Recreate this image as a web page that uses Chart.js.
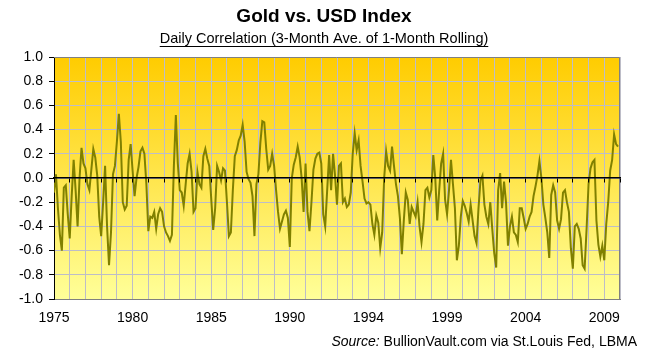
<!DOCTYPE html>
<html><head><meta charset="utf-8">
<script src="https://cdn.jsdelivr.net/npm/chart.js@4.4.0/dist/chart.umd.min.js"></script>
<style>html,body{margin:0;padding:0;background:#fff;}#wrap{width:654px;height:360px;}</style>
</head><body><div id="wrap"><canvas id="c" width="654" height="360"></canvas></div>
<script>
const titleText = 'Gold vs. USD Index';
const subtitleText = 'Daily Correlation (3-Month Ave. of 1-Month Rolling)';
const sourceLabel = 'Source:';
const sourceText = ' BullionVault.com via St.Louis Fed, LBMA';
const yearLabels = ['1975','1980','1985','1990','1994','1999','2004','2009'];
const pointsPerGrid = 8;
const pointsPerLabel = 40;
const correlation = [
-0.12,0.03,-0.25,-0.47,-0.60,-0.08,-0.06,-0.30,
-0.50,-0.15,0.15,-0.10,-0.40,0.00,0.25,0.12,
0.08,-0.05,-0.10,0.07,0.24,0.17,0.02,-0.32,
-0.48,-0.20,0.10,-0.40,-0.72,-0.45,0.03,0.10,
0.30,0.53,0.30,-0.20,-0.26,-0.23,0.15,0.28,
0.06,-0.15,0.00,0.09,0.22,0.25,0.20,-0.05,
-0.44,-0.32,-0.33,-0.28,-0.42,-0.30,-0.25,-0.28,
-0.40,-0.45,-0.48,-0.52,-0.47,0.10,0.52,0.12,
-0.10,-0.12,-0.23,-0.05,0.12,0.20,0.05,-0.28,
-0.25,0.05,-0.05,-0.08,0.18,0.24,0.16,0.10,
-0.17,-0.43,-0.25,0.10,0.05,-0.02,0.08,0.06,
-0.20,-0.48,-0.45,-0.10,0.18,0.23,0.31,0.35,
0.44,0.30,0.05,-0.01,-0.04,-0.15,-0.48,-0.05,
0.03,0.29,0.47,0.46,0.24,0.07,0.10,0.20,
0.10,-0.10,-0.28,-0.42,-0.36,-0.30,-0.27,-0.33,
-0.57,0.00,0.11,0.17,0.26,0.17,0.00,-0.28,
0.12,-0.28,-0.44,-0.20,0.07,0.16,0.20,0.21,
0.12,-0.30,-0.40,-0.10,0.19,-0.10,0.20,0.02,
-0.22,0.10,0.12,-0.20,-0.17,-0.24,-0.22,-0.12,
0.20,0.37,0.23,0.31,0.10,-0.03,-0.17,-0.21,
-0.20,-0.22,-0.38,-0.47,-0.31,-0.37,-0.58,-0.45,
0.00,0.22,0.10,0.06,0.26,0.10,-0.05,-0.15,
-0.33,-0.63,-0.35,-0.12,-0.18,-0.38,-0.24,-0.28,
-0.32,-0.20,-0.40,-0.53,-0.38,-0.10,-0.08,-0.16,
-0.10,0.19,0.00,-0.35,-0.10,0.12,0.20,-0.18,
-0.30,-0.10,0.15,-0.05,-0.25,-0.68,-0.56,-0.32,
-0.19,-0.23,-0.29,-0.36,-0.22,-0.35,-0.48,-0.54,
-0.25,-0.02,0.02,-0.22,-0.32,-0.38,-0.20,-0.42,
-0.62,-0.74,-0.10,0.04,-0.25,-0.03,-0.20,-0.56,
-0.40,-0.32,-0.45,-0.47,-0.53,-0.25,-0.25,-0.33,
-0.42,-0.38,-0.32,-0.28,-0.15,-0.07,0.02,0.14,
0.00,-0.22,-0.33,-0.45,-0.66,-0.14,-0.06,-0.12,
-0.35,-0.42,-0.34,-0.12,-0.10,-0.20,-0.28,-0.58,
-0.75,-0.40,-0.38,-0.42,-0.50,-0.72,-0.75,-0.42,
-0.05,0.08,0.13,0.15,-0.35,-0.55,-0.65,-0.56,
-0.68,-0.38,-0.20,0.06,0.15,0.36,0.28,0.26,
null
];

const FONT = "'Liberation Sans', Arial, sans-serif";
const lastIndex = correlation.length - 1;
const TITLE_SIZE = 19, SUB_SIZE = 14.5, SUB_PAD_TOP = 2;

const bgPlugin = {
  id: 'bg',
  beforeDraw(chart) {
    const {ctx, chartArea: a} = chart;
    const g = ctx.createLinearGradient(0, a.top, 0, a.bottom);
    g.addColorStop(0, '#FFCC00');
    g.addColorStop(1, '#FFFF99');
    ctx.save();
    ctx.fillStyle = g;
    ctx.fillRect(a.left, a.top, a.right - a.left, a.bottom - a.top);
    ctx.restore();
  }
};
const framePlugin = {
  id: 'frame',
  beforeDatasetsDraw(chart) {
    const {ctx, chartArea: a} = chart;
    ctx.save();
    ctx.strokeStyle = '#808080';
    ctx.lineWidth = 1;
    ctx.beginPath();
    ctx.moveTo(a.left, a.top + 0.5);
    ctx.lineTo(a.right - 0.5, a.top + 0.5);
    ctx.lineTo(a.right - 0.5, a.bottom);
    ctx.stroke();
    ctx.restore();
  }
};
const textPlugin = {
  id: 'texts',
  afterDraw(chart) {
    const ctx = chart.ctx;
    ctx.save();
    const box = chart.boxes.find(b => b.options && b.options.text === subtitleText);
    ctx.font = SUB_SIZE + 'px ' + FONT;
    if (box) {
      const w = ctx.measureText(subtitleText).width;
      const cx = (box.left + box.right) / 2;
      const y = Math.round(box.top + SUB_PAD_TOP + SUB_SIZE * 1.2 - 1) + 0.5;
      ctx.strokeStyle = '#000';
      ctx.lineWidth = 1;
      ctx.beginPath();
      ctx.moveTo(cx - w / 2, y);
      ctx.lineTo(cx + w / 2, y);
      ctx.stroke();
    }
    ctx.fillStyle = '#000';
    ctx.textBaseline = 'middle';
    ctx.textAlign = 'left';
    ctx.font = '14px ' + FONT;
    const wRest = ctx.measureText(sourceText).width;
    ctx.font = 'italic 14px ' + FONT;
    const wLab = ctx.measureText(sourceLabel).width;
    const right = 637;
    const x0 = right - wRest - wLab;
    ctx.fillText(sourceLabel, x0, 342);
    ctx.font = '14px ' + FONT;
    ctx.fillText(sourceText, x0 + wLab, 342);
    ctx.restore();
  }
};

new Chart(document.getElementById('c'), {
  type: 'line',
  data: {
    datasets: [{
      data: correlation.map((v, i) => ({x: i, y: v})),
      borderColor: '#808000',
      borderWidth: 2,
      pointRadius: 0,
      tension: 0,
      fill: false
    }]
  },
  options: {
    responsive: false,
    animation: false,
    layout: {padding: {left: 0, right: 6, top: 0, bottom: 0}},
    plugins: {
      legend: {display: false},
      tooltip: {enabled: false},
      title: {display: true, text: titleText, color: '#000',
        font: {family: FONT, size: TITLE_SIZE, weight: 'bold'}, padding: {top: 5, bottom: 0}},
      subtitle: {display: true, text: subtitleText, color: '#000',
        font: {family: FONT, size: SUB_SIZE}, padding: {top: SUB_PAD_TOP, bottom: 9.8}}
    },
    scales: {
      x: {
        type: 'linear', position: 'bottom', min: 0, max: lastIndex,
        afterFit: s => { s.height = 61; },
        ticks: {
          stepSize: pointsPerGrid, autoSkip: false, maxRotation: 0, padding: 11,
          color: '#000', font: {family: FONT, size: 14},
          callback: v => (v % pointsPerLabel === 0 ? (yearLabels[v / pointsPerLabel] || '') : '')
        },
        grid: {color: '#BDBDC8', drawTicks: false, lineWidth: 1},
        border: {color: '#808080', width: 1}
      },
      x0: {
        type: 'linear', position: {y: 0}, min: 0, max: lastIndex,
        ticks: {stepSize: pointsPerGrid, display: false, autoSkip: false},
        grid: {drawOnChartArea: false, drawTicks: true, tickLength: 4, color: '#000', tickColor: '#000', z: 1},
        border: {color: '#000', width: 1.5, z: 1}
      },
      y: {
        type: 'linear', position: 'left', min: -1, max: 1,
        afterFit: s => { s.width = 54; },
        ticks: {
          stepSize: 0.2, padding: 6, color: '#000', font: {family: FONT, size: 14},
          callback: v => (Math.abs(v) < 1e-9 ? 0 : v).toFixed(1)
        },
        grid: {color: '#BDBDC8', tickColor: '#000', tickLength: 5, lineWidth: 1},
        border: {color: '#000', width: 1}
      },
      yRight: {
        type: 'linear', position: 'right', display: true,
        afterFit: s => { s.width = 28; },
        ticks: {display: false},
        grid: {display: false, drawTicks: false},
        border: {display: false}
      }
    }
  },
  plugins: [bgPlugin, framePlugin, textPlugin]
});
</script>
</body></html>
